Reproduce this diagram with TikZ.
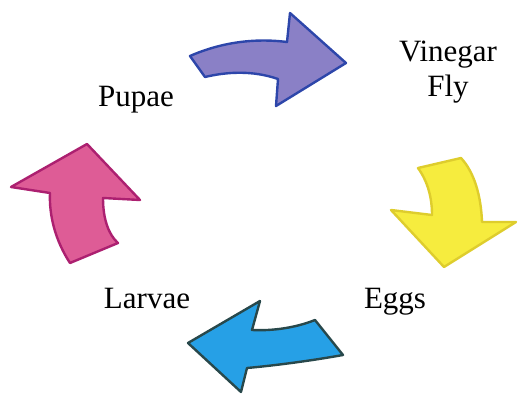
\documentclass[tikz,border=0pt]{standalone}
\usepackage{fontspec}
\setmainfont{Liberation Serif}
\definecolor{purpfill}{RGB}{138,128,198}
\definecolor{purpline}{RGB}{45,70,170}
\definecolor{yelfill}{RGB}{246,236,62}
\definecolor{yelline}{RGB}{222,205,45}
\definecolor{bluefill}{RGB}{38,160,230}
\definecolor{blueline}{RGB}{40,72,75}
\definecolor{pinkfill}{RGB}{222,92,150}
\definecolor{pinkline}{RGB}{172,32,112}
\tikzset{
  lbl/.style={font=\fontsize{31}{35}\selectfont, align=center, inner sep=0pt},
  cyc/.style={line width=2.4pt, line join=round}
}
\begin{document}
\begin{tikzpicture}[x=1pt,y=-1pt]
\useasboundingbox (0,0) rectangle (519,398);
% purple arrow (top)
\draw[cyc, draw=purpline, fill=purpfill]
  (190,56) .. controls (222,42) and (255,38) .. (287,42)
  -- (290,13) -- (346,63) -- (276,106) -- (278,79)
  .. controls (252,70) and (226,72) .. (205,77) -- cycle;
% yellow arrow (right)
\draw[cyc, draw=yelline, fill=yelfill]
  (461,158) .. controls (474,172) and (481,195) .. (482,222)
  -- (516,222) -- (444,267) -- (391,210) -- (432,215)
  .. controls (432,198) and (428,182) .. (418,168) -- cycle;
% blue arrow (bottom)
\draw[cyc, draw=blueline, fill=bluefill]
  (315,320) .. controls (295,328) and (272,331) .. (252,330)
  -- (260,301) -- (188,343) -- (241,392) -- (247,368)
  .. controls (280,365) and (315,360) .. (343,355) -- cycle;
% pink arrow (left)
\draw[cyc, draw=pinkline, fill=pinkfill]
  (70,263) .. controls (55,240) and (49,215) .. (50,193)
  -- (11,187) -- (87,144) -- (140,200) -- (103,198)
  .. controls (103,220) and (109,235) .. (118,243) -- cycle;
% labels
\node[lbl] (fly) at (448,72) {Vinegar\\Fly};
\node[lbl, anchor=base] (pupae) at (136,107) {Pupae};
\node[lbl, anchor=base] (eggs) at (395,308) {Eggs};
\node[lbl, anchor=base] (larvae) at (147,308) {Larvae};
\end{tikzpicture}
\end{document}
